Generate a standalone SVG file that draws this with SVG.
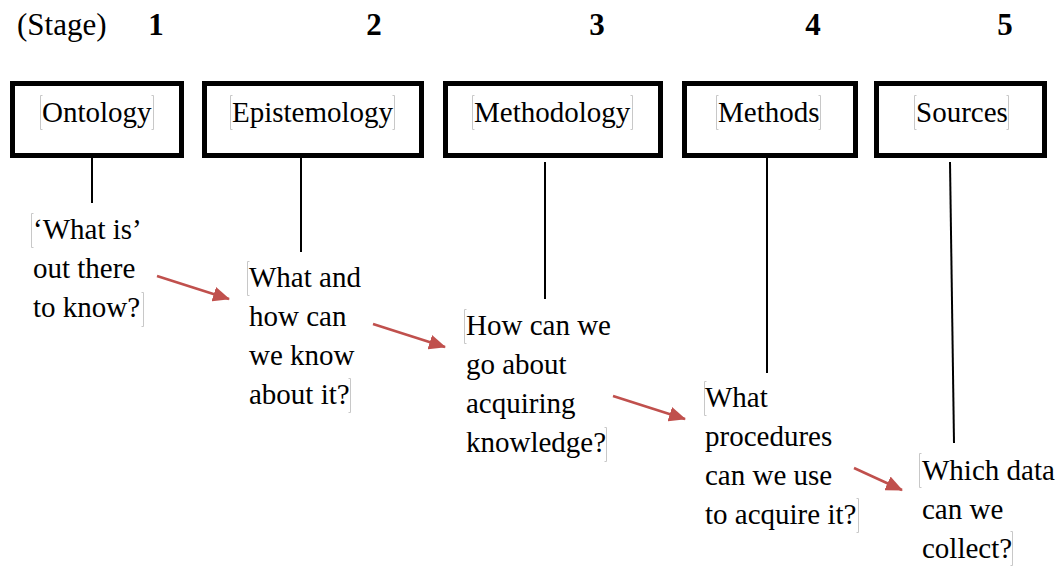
<svg xmlns="http://www.w3.org/2000/svg" width="1062" height="566" viewBox="0 0 1062 566">
<style>
text{font-family:'Liberation Serif',Tinos,'Times New Roman',Times,'DejaVu Serif',serif;font-size:29px;fill:#000}
.h{font-size:31px}
.b{font-weight:bold;text-anchor:middle}
.box{fill:#fff;stroke:#000;stroke-width:5}
.br{fill:none;stroke:#c8c8c8;stroke-width:1}
.vl{stroke:#000;stroke-width:2;fill:none}
.ar{stroke:#c0504d;stroke-width:2.5;fill:none;marker-end:url(#ah)}
</style>
<defs>
<marker id="ah" markerUnits="userSpaceOnUse" markerWidth="18" markerHeight="15" refX="16" refY="7.5" orient="auto">
<path d="M0,0 L17,7.5 L0,15 Z" fill="#c0504d"/>
</marker>
</defs>
<rect width="1062" height="566" fill="#fff"/>
<g id="header">
<text class="h" x="17" y="35">(Stage)</text>
<text class="h b" x="156" y="35">1</text>
<text class="h b" x="374" y="35">2</text>
<text class="h b" x="597" y="35">3</text>
<text class="h b" x="813" y="35">4</text>
<text class="h b" x="1005" y="35">5</text>
</g>
<g id="connectors">
<line class="vl" x1="92" y1="158" x2="92" y2="203"/>
<line class="vl" x1="301" y1="158" x2="301" y2="252"/>
<line class="vl" x1="545" y1="162" x2="545" y2="299"/>
<line class="vl" x1="767" y1="158" x2="767" y2="373"/>
<line class="vl" x1="950" y1="162" x2="954" y2="443"/>
<line class="ar" x1="157" y1="276" x2="229" y2="299"/>
<line class="ar" x1="373" y1="324" x2="445" y2="347"/>
<line class="ar" x1="613" y1="396" x2="685" y2="419"/>
<line class="ar" x1="854" y1="468" x2="902" y2="490"/>
</g>
<g id="ontology">
<rect class="box" x="12.5" y="83.5" width="169" height="72"/>
<path class="br" d="M42.5,95.5 h-2 v34 h2 M151.5,95.5 h2 v34 h-2"/>
<text x="42" y="122">Ontology</text>
</g>
<g id="epistemology">
<rect class="box" x="204.5" y="83.5" width="217" height="72"/>
<path class="br" d="M232.5,95.5 h-2 v34 h2 M392.5,95.5 h2 v34 h-2"/>
<text x="232" y="122">Epistemology</text>
</g>
<g id="methodology">
<rect class="box" x="445.5" y="83.5" width="215" height="72"/>
<path class="br" d="M474.5,95.5 h-2 v34 h2 M630.5,95.5 h2 v34 h-2"/>
<text x="474" y="122">Methodology</text>
</g>
<g id="methods">
<rect class="box" x="684.5" y="83.5" width="171" height="72"/>
<path class="br" d="M718.5,95.5 h-2 v34 h2 M818.5,95.5 h2 v34 h-2"/>
<text x="718" y="122">Methods</text>
</g>
<g id="sources">
<rect class="box" x="876.5" y="83.5" width="168" height="72"/>
<path class="br" d="M916.5,95.5 h-2 v34 h2 M1006.5,95.5 h2 v34 h-2"/>
<text x="916" y="122">Sources</text>
</g>
<g id="q-ontology">
<path class="br" d="M33.5,213.5 h-2 v34 h2 M141.5,292.5 h2 v34 h-2"/>
<text x="33" y="239">‘What is’</text>
<text x="33" y="278">out there</text>
<text x="33" y="317">to know?</text>
</g>
<g id="q-epistemology">
<path class="br" d="M249.5,261.5 h-2 v34 h2 M348.5,378.5 h2 v34 h-2"/>
<text x="249" y="287">What and</text>
<text x="249" y="326">how can</text>
<text x="249" y="365">we know</text>
<text x="249" y="404">about it?</text>
</g>
<g id="q-methodology">
<path class="br" d="M466.5,309.5 h-2 v34 h2 M604.5,427.5 h2 v34 h-2"/>
<text x="466" y="335">How can we</text>
<text x="466" y="374">go about</text>
<text x="466" y="413">acquiring</text>
<text x="466" y="452">knowledge?</text>
</g>
<g id="q-methods">
<path class="br" d="M706.5,381.5 h-2 v34 h2 M856.5,498.5 h2 v34 h-2"/>
<text x="705" y="407">What</text>
<text x="705" y="446">procedures</text>
<text x="705" y="485">can we use</text>
<text x="705" y="524">to acquire it?</text>
</g>
<g id="q-sources">
<path class="br" d="M921.5,453.5 h-2 v34 h2 M1010.5,531.5 h2 v34 h-2"/>
<text x="922" y="480">Which data</text>
<text x="922" y="519">can we</text>
<text x="922" y="558">collect?</text>
</g>
</svg>
